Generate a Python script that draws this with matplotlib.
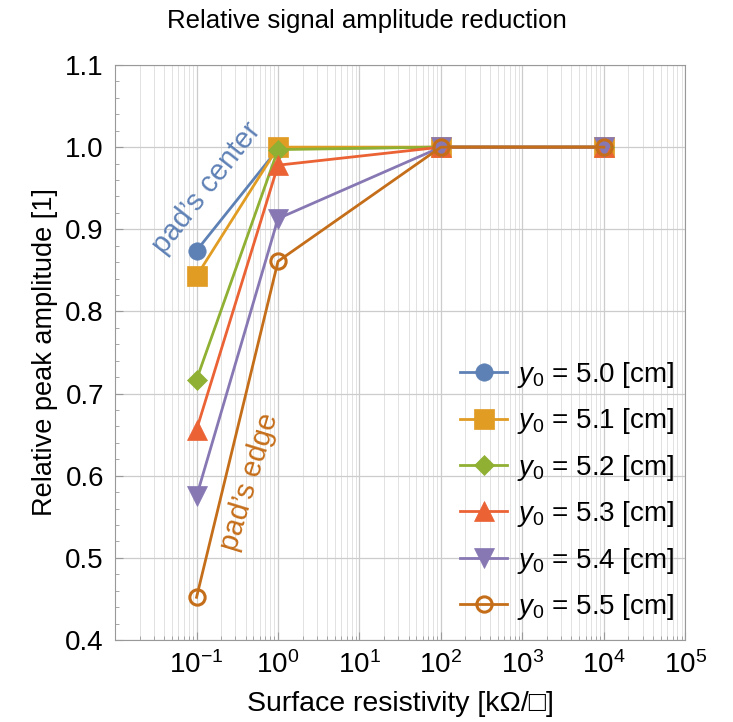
import matplotlib
matplotlib.use("Agg")
import matplotlib.pyplot as plt
from matplotlib.ticker import LogLocator, MultipleLocator, FixedLocator, NullFormatter

plt.rcParams["font.family"] = ["Liberation Sans", "DejaVu Sans"]
plt.rcParams["mathtext.fontset"] = "custom"
plt.rcParams["mathtext.rm"] = "Liberation Sans"
plt.rcParams["mathtext.it"] = "Liberation Sans:italic"
plt.rcParams["font.size"] = 15

# Data
resistivity = [0.1, 1.0, 100.0, 10000.0]
y0_labels = ["5.0", "5.1", "5.2", "5.3", "5.4", "5.5"]
amp_50 = [0.874, 0.998, 1.0, 1.0]
amp_51 = [0.843, 1.0, 1.0, 1.0]
amp_52 = [0.717, 0.997, 1.0, 1.0]
amp_53 = [0.656, 0.978, 1.0, 1.0]
amp_54 = [0.575, 0.913, 1.0, 1.0]
amp_55 = [0.452, 0.861, 1.0, 1.0]
series = [amp_50, amp_51, amp_52, amp_53, amp_54, amp_55]

colors = ["#5E81B5", "#E19C24", "#8FB032", "#EB6235", "#8778B3", "#C56E1A"]
markers = ["o", "s", "D", "^", "v", "o"]
sizes = [12.5, 15, 10.5, 14, 14, 11]

fig = plt.figure(figsize=(7.33, 7.22), dpi=100)
ax = fig.add_axes([0.157, 0.1136, 0.778, 0.7964])

for vals, lab, c, m, ms in zip(series, y0_labels, colors, markers, sizes):
    hollow = lab == "5.5"
    ax.plot(resistivity, vals, color=c, marker=m, markersize=ms, lw=2,
            markerfacecolor="none" if hollow else c, markeredgecolor=c,
            markeredgewidth=2.2 if hollow else 0.5,
            label=f"$y_0$ = {lab} [cm]")

ax.set_xscale("log")
ax.set_xlim(0.01, 1e5)
ax.set_ylim(0.4, 1.1)
ax.xaxis.set_major_locator(FixedLocator([10.0 ** k for k in range(-1, 6)]))
ax.xaxis.set_minor_locator(LogLocator(base=10, subs=range(2, 10), numticks=20))
ax.xaxis.set_minor_formatter(NullFormatter())
ax.yaxis.set_major_locator(MultipleLocator(0.1))
ax.yaxis.set_minor_locator(MultipleLocator(0.02))
ax.yaxis.set_major_formatter(plt.FormatStrFormatter("%.1f"))

ax.grid(True, which="major", color="#cccccc", lw=0.9)
ax.grid(True, which="minor", axis="x", color="#e2e2e2", lw=0.7)
ax.set_axisbelow(True)
for s in ax.spines.values():
    s.set_color("#999999")
ax.tick_params(which="both", direction="in", color="#999999", top=False, right=False)
ax.tick_params(which="major", length=6, labelsize=20, pad=8)
ax.tick_params(which="minor", length=3)

ax.set_xlabel("Surface resistivity [k\u03a9/\u25a1]", fontsize=20.5, labelpad=9)
ax.set_ylabel("Relative peak amplitude [1]", fontsize=19.5, labelpad=5)
fig.suptitle("Relative signal amplitude reduction", fontsize=18.5, y=0.988)

ax.text(0.135, 0.95, "pad\u2019s center", color=colors[0], fontsize=21,
        rotation=52, ha="center", va="center")
ax.text(0.45, 0.592, "pad\u2019s edge", color=colors[5], fontsize=21,
        rotation=73, ha="center", va="center")

ax.legend(loc="lower right", bbox_to_anchor=(1.0, 0.012), frameon=False,
          fontsize=20, handlelength=1.7, labelspacing=0.59, borderaxespad=0,
          handletextpad=0.35)

fig.savefig("out.png", dpi=100)
